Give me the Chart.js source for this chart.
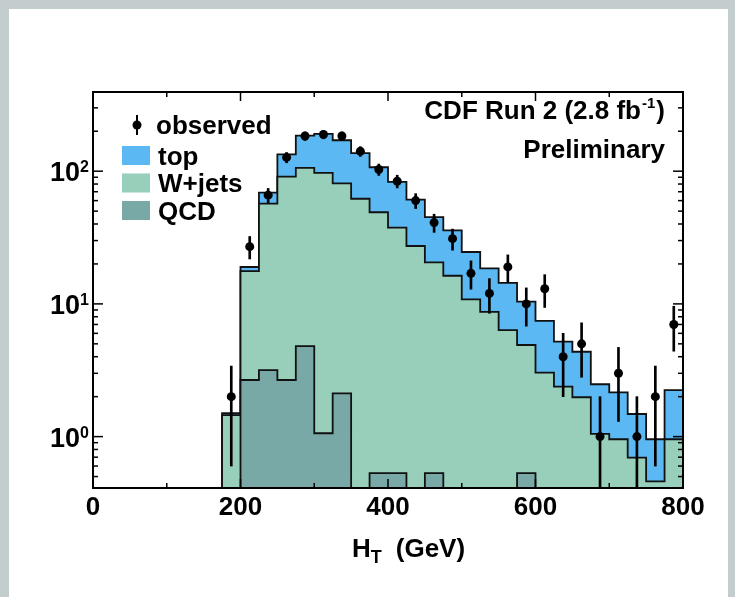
<!DOCTYPE html>
<html>
<head>
<meta charset="utf-8">
<script src="https://cdn.jsdelivr.net/npm/chart.js@4.4.1/dist/chart.umd.min.js"></script>
<style>
  html, body { margin: 0; padding: 0; width: 735px; height: 597px; overflow: hidden; background: #c4cdcd; }
  #panel { position: absolute; left: 9px; top: 9px; width: 719px; height: 600px; background: #ffffff; }
  #wrap { position: absolute; left: 0; top: 0; width: 735px; height: 597px; }
</style>
</head>
<body>
<div id="panel"></div>
<div id="wrap"><canvas id="c" width="735" height="597"></canvas></div>
<script>
// ---------------- data ----------------
const binEdges = [175, 200, 225, 250, 275, 300, 325, 350, 375, 400, 425, 450, 475,
                  500, 525, 550, 575, 600, 625, 650, 675, 700, 725, 750, 775, 800];
// stacked components per bin
const qcdValues   = [0, 2.67, 3.17, 2.67, 4.81, 1.06, 2.12, 0, 0.53, 0.53, 0, 0.53, 0,
                     0, 0, 0, 0.53, 0, 0, 0, 0, 0, 0, 0, 0];
const wjetsValues = [1.45, 15.0, 53.8, 88.3, 101.2, 95.9, 78.9, 62, 48.5, 37.0, 27.3, 20.0, 16.3,
                     10.8, 8.7, 6.35, 4.37, 3.03, 2.38, 1.98, 1.05, 0.955, 0.695, 0.46, 0.955];
const topValues   = [0.05, 1.3, 12, 43, 79, 94, 90, 75, 58, 45.5, 33.7, 24.5, 19.5,
                     13.8, 9.8, 8.05, 5.5, 4.42, 2.82, 2.38, 1.43, 1.2, 0.785, 0.495, 1.285];
const observedValues = [2, 27, 66, 127, 184, 189, 184, 141, 103, 84, 60, 41, 31,
                        17, 12, 19, 10, 13, 4, 5, 1, 3, 1, 2, 7];
const observedErrors = [1.4, 5.2, 8.1, 11.3, 13.6, 13.7, 13.6, 11.9, 10.1, 9.2, 7.7, 6.4, 5.6,
                        4.1, 3.5, 4.4, 3.2, 3.6, 2.0, 2.2, 1.0, 1.7, 1.0, 1.4, 2.6];
const xTickLabels = [0, 200, 400, 600, 800];
const xMinorTicks = [100, 300, 500, 700];
const yPowers = [0, 1, 2];
const yMinorTicks = [0.5, 0.6, 0.7, 0.8, 0.9, 2, 3, 4, 5, 6, 7, 8, 9,
                     20, 30, 40, 50, 60, 70, 80, 90, 200, 300];
const legendLabels = ['observed', 'top', 'W+jets', 'QCD'];

// ---------------- style ----------------
const Y_MIN = 0.41, Y_MAX = 395;
const C_TOP = '#5bb8f2', C_WJ = '#97cfba', C_QCD = '#79a9a6';
const FONT = '"Liberation Sans", Arial, Helvetica, sans-serif';

// cumulative stack levels (built from the components)
const qcdLevel = qcdValues.slice();
const wjLevel = wjetsValues.map((v, i) => v + qcdValues[i]);
const totLevel = topValues.map((v, i) => v + wjLevel[i]);

function stepPoints(levels) {
  const pts = [{ x: binEdges[0], y: Y_MIN }];
  levels.forEach((v, i) => pts.push({ x: binEdges[i + 1], y: v > Y_MIN ? v : Y_MIN }));
  pts.push({ x: binEdges[binEdges.length - 1], y: Y_MIN });
  return pts;
}
const centers = observedValues.map((_, i) => (binEdges[i] + binEdges[i + 1]) / 2);
const obsPoints = observedValues.map((v, i) => ({ x: centers[i], y: v }));
const errBars = observedValues.map((v, i) => ({
  x: centers[i],
  y: [Math.max(v - observedErrors[i], Y_MIN), v + observedErrors[i]]
}));

function histDataset(label, levels, color, order) {
  return {
    label, data: stepPoints(levels), stepped: 'after', fill: 'start',
    backgroundColor: color, borderColor: '#111', borderWidth: 1.8,
    pointRadius: 0, pointHoverRadius: 0, order
  };
}

const decor = {
  id: 'decor',
  afterDraw(chart) {
    const { ctx, chartArea: a, scales: { x, y } } = chart;
    ctx.save();
    ctx.strokeStyle = '#000';
    ctx.lineWidth = 1.5;
    const seg = (x1, y1, x2, y2) => { ctx.beginPath(); ctx.moveTo(x1, y1); ctx.lineTo(x2, y2); ctx.stroke(); };
    xTickLabels.forEach(v => { const p = x.getPixelForValue(v); seg(p, a.bottom, p, a.bottom - 9); seg(p, a.top, p, a.top + 9); });
    xMinorTicks.forEach(v => { const p = x.getPixelForValue(v); seg(p, a.bottom, p, a.bottom - 5); seg(p, a.top, p, a.top + 5); });
    yPowers.forEach(pw => { const p = y.getPixelForValue(Math.pow(10, pw)); seg(a.left, p, a.left + 10, p); seg(a.right, p, a.right - 10, p); });
    yMinorTicks.forEach(v => { const p = y.getPixelForValue(v); seg(a.left, p, a.left + 5, p); seg(a.right, p, a.right - 5, p); });
    // frame
    ctx.lineWidth = 2;
    ctx.strokeRect(a.left, a.top, a.right - a.left, a.bottom - a.top);

    ctx.fillStyle = '#000';
    // y labels 10^n
    yPowers.forEach(pw => {
      const p = y.getPixelForValue(Math.pow(10, pw));
      ctx.font = 'bold 27px ' + FONT;
      ctx.textAlign = 'right'; ctx.textBaseline = 'alphabetic';
      ctx.fillText('10', a.left - 13, p + 10);
      ctx.font = 'bold 16px ' + FONT;
      ctx.textAlign = 'left';
      ctx.fillText(String(pw), a.left - 13, p + 1);
    });

    // legend
    ctx.textAlign = 'left'; ctx.textBaseline = 'alphabetic';
    ctx.font = 'bold 26px ' + FONT;
    ctx.lineWidth = 2;
    seg(137, 115, 137, 135);
    ctx.beginPath(); ctx.arc(137, 125, 4.5, 0, Math.PI * 2); ctx.fill();
    ctx.fillText(legendLabels[0], 156, 134);
    const boxes = [[C_TOP, 146, 165], [C_WJ, 173.5, 192], [C_QCD, 201, 220]];
    boxes.forEach((b, i) => {
      ctx.fillStyle = b[0];
      ctx.fillRect(122, b[1], 28, 19);
      ctx.fillStyle = '#000';
      ctx.fillText(legendLabels[i + 1], 158, b[2]);
    });

    // CDF label
    ctx.font = 'bold 26px ' + FONT;
    const closeW = ctx.measureText(')').width;
    const main = 'CDF Run 2 (2.8 fb';
    const mainW = ctx.measureText(main).width;
    ctx.font = 'bold 15px ' + FONT;
    const supW = ctx.measureText('-1').width;
    const right = 665;
    const xClose = right - closeW, xSup = xClose - supW - 1, xMain = xSup - mainW - 1;
    ctx.font = 'bold 26px ' + FONT;
    ctx.fillText(main, xMain, 119);
    ctx.fillText(')', xClose, 119);
    ctx.font = 'bold 15px ' + FONT;
    ctx.fillText('-1', xSup, 108);
    ctx.font = 'bold 26px ' + FONT;
    ctx.textAlign = 'right';
    ctx.fillText('Preliminary', right, 158);

    // x-axis title H_T (GeV)
    ctx.textAlign = 'left';
    ctx.font = 'bold 26px ' + FONT;
    ctx.fillText('H', 352, 557);
    const hW = ctx.measureText('H').width;
    ctx.font = 'bold 18px ' + FONT;
    ctx.fillText('T', 352 + hW, 563);
    const tW = ctx.measureText('T').width;
    ctx.font = 'bold 26px ' + FONT;
    ctx.fillText('(GeV)', 352 + hW + tW + 14, 557);
    ctx.restore();
  }
};

new Chart(document.getElementById('c'), {
  type: 'line',
  data: {
    datasets: [
      { label: legendLabels[0], data: obsPoints, showLine: false, pointRadius: 4.5, pointHoverRadius: 4.5,
        pointBackgroundColor: '#000', pointBorderWidth: 0, order: 0 },
      { type: 'bar', label: 'error', data: errBars, backgroundColor: '#000', barThickness: 2,
        borderWidth: 0, clip: 0, order: 1 },
      histDataset(legendLabels[3], qcdLevel, C_QCD, 2),
      histDataset(legendLabels[2], wjLevel, C_WJ, 3),
      histDataset(legendLabels[1], totLevel, C_TOP, 4)
    ]
  },
  options: {
    responsive: false,
    animation: false,
    events: [],
    layout: { padding: { top: 92, right: 52, left: 0, bottom: 0 } },
    plugins: { legend: { display: false }, tooltip: { enabled: false } },
    scales: {
      x: {
        type: 'linear', min: 0, max: 800, offset: false,
        grid: { display: false, drawTicks: false, offset: false },
        border: { display: false },
        ticks: { stepSize: 200, color: '#000', autoSkip: false, maxRotation: 0, padding: 4,
                 font: { family: FONT, size: 26, weight: 'bold' },
                 callback: v => xTickLabels.includes(v) ? String(v) : '' },
        afterFit(s) { s.height = 109; }
      },
      y: {
        type: 'logarithmic', min: Y_MIN, max: Y_MAX,
        grid: { display: false, drawTicks: false },
        border: { display: false },
        ticks: { display: false },
        afterFit(s) { s.width = 93; }
      }
    }
  },
  plugins: [decor]
});
</script>
</body>
</html>
